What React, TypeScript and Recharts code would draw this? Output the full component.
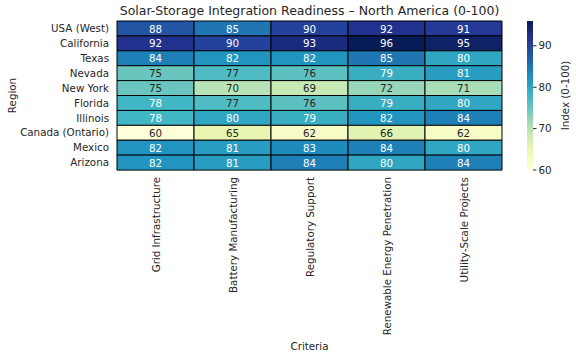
import React from 'react';
import { BarChart, Bar, XAxis, YAxis, Cell, LabelList, Label } from 'recharts';

const regions = ['USA (West)', 'California', 'Texas', 'Nevada', 'New York', 'Florida', 'Illinois', 'Canada (Ontario)', 'Mexico', 'Arizona'];
const criteria = ['Grid Infrastructure', 'Battery Manufacturing', 'Regulatory Support', 'Renewable Energy Penetration', 'Utility-Scale Projects'];

const gridInfrastructure = [88, 92, 84, 75, 75, 78, 78, 60, 82, 82];
const batteryManufacturing = [85, 90, 82, 77, 70, 77, 80, 65, 81, 81];
const regulatorySupport = [90, 93, 82, 76, 69, 76, 79, 62, 83, 84];
const renewablePenetration = [92, 96, 85, 79, 72, 79, 82, 66, 84, 80];
const utilityScale = [91, 95, 80, 81, 71, 80, 84, 62, 80, 84];

const series = [gridInfrastructure, batteryManufacturing, regulatorySupport, renewablePenetration, utilityScale];

const colorTicks = [60, 70, 80, 90];
const vmin = 60;
const vmax = 96;

// YlGnBu stops (matplotlib)
const ylGnBu = ['#ffffd9', '#edf8b1', '#c7e9b4', '#7fcdbb', '#41b6c4', '#1d91c0', '#225ea8', '#253494', '#081d58'];

const FONT = 'DejaVu Sans, sans-serif';
const TEXT = '#262626';

const hexToRgb = (h: string) => [1, 3, 5].map((i) => parseInt(h.slice(i, i + 2), 16));

const rgbAt = (v: number) => {
  const t = Math.min(1, Math.max(0, (v - vmin) / (vmax - vmin)));
  const pos = t * (ylGnBu.length - 1);
  const i = Math.min(ylGnBu.length - 2, Math.floor(pos));
  const f = pos - i;
  const a = hexToRgb(ylGnBu[i]);
  const b = hexToRgb(ylGnBu[i + 1]);
  return a.map((x, k) => x + (b[k] - x) * f);
};

const colorAt = (v: number) => {
  const c = rgbAt(v).map(Math.round);
  return `rgb(${c[0]},${c[1]},${c[2]})`;
};

// seaborn-style text colour choice based on luminance
const textColorFor = (v: number) => {
  const c = rgbAt(v)
    .map((x) => x / 255)
    .map((x) => (x <= 0.03928 ? x / 12.92 : Math.pow((x + 0.055) / 1.055, 2.4)));
  const lum = 0.2126 * c[0] + 0.7152 * c[1] + 0.0722 * c[2];
  return lum > 0.408 ? TEXT : '#ffffff';
};

const rows = regions.map((region, i) => {
  const row: any = { region };
  series.forEach((s, j) => {
    row[`c${j}`] = 1;
    row[`v${j}`] = s[i];
  });
  return row;
});

const colorbarData = [{ name: 'cb', value: vmax }];

const CriteriaTick = (props: any) => {
  const { x, y, payload } = props;
  const name = criteria[Math.floor(payload.value)];
  const ty = y + 7;
  return (
    <text
      x={x}
      y={ty}
      transform={`rotate(-90, ${x}, ${ty})`}
      textAnchor="end"
      dominantBaseline="central"
      fontSize={10.3}
      fontFamily={FONT}
      fill={TEXT}
    >
      {name}
    </text>
  );
};

const CellLabel = (props: any) => {
  const { x, y, width, height, value } = props;
  return (
    <text
      x={x + width / 2}
      y={y + height / 2}
      textAnchor="middle"
      dominantBaseline="central"
      fontSize={10.3}
      fontFamily={FONT}
      fill={textColorFor(value)}
    >
      {value}
    </text>
  );
};

export default function App() {
  return (
    <div style={{ position: 'absolute', left: 0, top: 0, width: 576, height: 357, background: '#fff' }}>
      <div
        style={{
          position: 'absolute',
          left: 117,
          width: 385,
          top: 3,
          textAlign: 'center',
          fontFamily: FONT,
          fontSize: 12.5,
          color: TEXT,
          whiteSpace: 'nowrap',
        }}
      >
        Solar-Storage Integration Readiness – North America (0-100)
      </div>

      <div style={{ position: 'absolute', left: 0, top: 0 }}>
        <BarChart
          width={576}
          height={357}
          data={rows}
          layout="vertical"
          barCategoryGap={0}
          margin={{ top: 21, right: 74, bottom: 7, left: 0 }}
        >
          <XAxis
            type="number"
            domain={[0, 5]}
            ticks={[0.5, 1.5, 2.5, 3.5, 4.5]}
            axisLine={false}
            tickLine={false}
            tickSize={0}
            tickMargin={0}
            height={180}
            tick={<CriteriaTick />}
            interval={0}
          >
            <Label value="Criteria" position="insideBottom" offset={0} fontSize={10.3} fontFamily={FONT} fill={TEXT} />
          </XAxis>
          <YAxis
            type="category"
            dataKey="region"
            width={117}
            axisLine={false}
            tickLine={false}
            tickSize={0}
            tickMargin={8}
            interval={0}
            tick={{ fontSize: 10.3, fontFamily: FONT, fill: TEXT }}
          >
            <Label
              content={(p: any) => {
                const vb = p.viewBox;
                const cx = vb.x + 12;
                const cy = vb.y + vb.height / 2;
                return (
                  <text
                    x={cx}
                    y={cy}
                    transform={`rotate(-90, ${cx}, ${cy})`}
                    textAnchor="middle"
                    dominantBaseline="central"
                    fontSize={10.3}
                    fontFamily={FONT}
                    fill={TEXT}
                  >
                    Region
                  </text>
                );
              }}
            />
          </YAxis>
          {series.map((s, j) => (
            <Bar key={j} dataKey={`c${j}`} stackId="a" isAnimationActive={false}>
              {s.map((v, i) => (
                <Cell key={i} fill={colorAt(v)} stroke="#000" strokeWidth={1} />
              ))}
              <LabelList dataKey={`v${j}`} content={<CellLabel />} />
            </Bar>
          ))}
        </BarChart>
      </div>

      <div style={{ position: 'absolute', left: 0, top: 0 }}>
        <BarChart
          width={576}
          height={357}
          data={colorbarData}
          barCategoryGap={0}
          margin={{ top: 21, right: 0, bottom: 187, left: 527 }}
        >
          <defs>
            <linearGradient id="cbGrad" x1="0" y1="1" x2="0" y2="0">
              {ylGnBu.map((c, i) => (
                <stop key={i} offset={`${(i / (ylGnBu.length - 1)) * 100}%`} stopColor={c} />
              ))}
            </linearGradient>
          </defs>
          <XAxis dataKey="name" hide />
          <YAxis
            orientation="right"
            type="number"
            domain={[vmin, vmax]}
            ticks={colorTicks}
            width={43}
            axisLine={false}
            tickLine={{ stroke: TEXT }}
            tickSize={3.5}
            tickMargin={2}
            tick={{ fontSize: 10.3, fontFamily: FONT, fill: TEXT }}
          >
            <Label
              content={(p: any) => {
                const vb = p.viewBox;
                const cx = vb.x + 32;
                const cy = vb.y + vb.height / 2;
                return (
                  <text
                    x={cx}
                    y={cy}
                    transform={`rotate(-90, ${cx}, ${cy})`}
                    textAnchor="middle"
                    dominantBaseline="central"
                    fontSize={10.3}
                    fontFamily={FONT}
                    fill={TEXT}
                  >
                    Index (0-100)
                  </text>
                );
              }}
            />
          </YAxis>
          <Bar dataKey="value" fill="url(#cbGrad)" isAnimationActive={false} />
        </BarChart>
      </div>
    </div>
  );
}
